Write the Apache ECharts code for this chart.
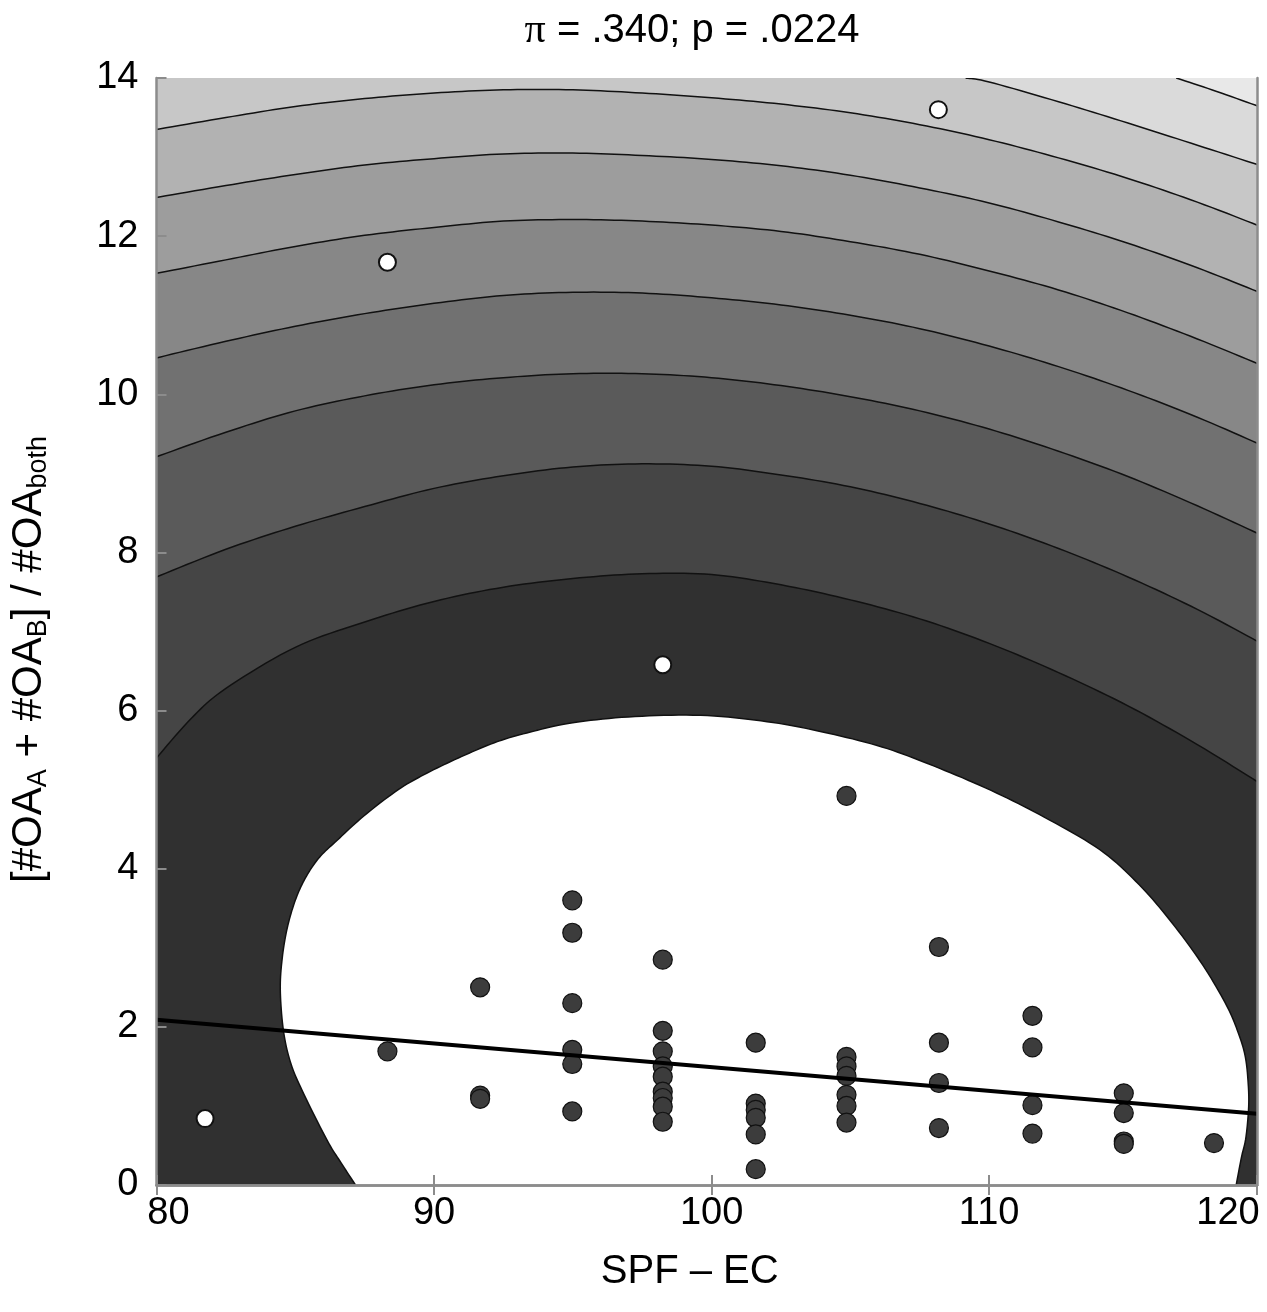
<!DOCTYPE html>
<html>
<head>
<meta charset="utf-8">
<title>SPF – EC</title>
<script src="https://cdn.jsdelivr.net/npm/echarts@6/dist/echarts.min.js"></script>
<style>
html, body { margin: 0; padding: 0; background: #fff; }
#chart { width: 1267px; height: 1312px; }
</style>
</head>
<body>
<div id="chart"></div>
<script>
var FONT = "'Liberation Sans', Arial, Helvetica, sans-serif";
var X_MIN = 80, X_MAX = 119.65, Y_MIN = 0, Y_MAX = 14;

// contour lines, outermost first
var contourA = [[116.74, 14.0], [118.2, 13.83], [119.8, 13.63]];
var contourB = [[109.15, 14.0], [110, 13.95], [112.5, 13.70], [115, 13.43], [117.5, 13.15], [119.8, 12.89]];
var contour1 = [[80, 13.35], [82.5, 13.50], [85, 13.64], [87.5, 13.74], [90, 13.81], [92.5, 13.85], [95, 13.85], [97.5, 13.81], [100, 13.75], [102.5, 13.67], [105, 13.56], [107.5, 13.41], [110, 13.22], [112.5, 12.99], [115, 12.73], [117.5, 12.43], [119.8, 12.12]];
var contour2 = [[80, 12.49], [82.5, 12.64], [85, 12.78], [87.5, 12.90], [90, 12.98], [92.5, 13.04], [95, 13.05], [97.5, 13.02], [100, 12.97], [102.5, 12.89], [105, 12.77], [107.5, 12.61], [110, 12.42], [112.5, 12.18], [115, 11.91], [117.5, 11.60], [119.8, 11.28]];
var contour3 = [[80, 11.53], [82.5, 11.70], [85, 11.87], [87.5, 12.01], [90, 12.11], [92.5, 12.19], [95, 12.21], [97.5, 12.19], [100, 12.14], [102.5, 12.06], [105, 11.93], [107.5, 11.77], [110, 11.56], [112.5, 11.32], [115, 11.03], [117.5, 10.70], [119.8, 10.37]];
var contour4 = [[80, 10.46], [82.5, 10.67], [85, 10.86], [87.5, 11.02], [90, 11.15], [92.5, 11.25], [95, 11.29], [97.5, 11.28], [100, 11.22], [102.5, 11.13], [105, 11.00], [107.5, 10.83], [110, 10.61], [112.5, 10.35], [115, 10.05], [117.5, 9.71], [119.8, 9.36]];
var contour5 = [[80, 9.21], [82.5, 9.52], [85, 9.79], [87.5, 9.98], [90, 10.12], [92.5, 10.21], [95, 10.26], [97.5, 10.26], [100, 10.21], [102.5, 10.11], [105, 9.97], [107.5, 9.79], [110, 9.56], [112.5, 9.28], [115, 8.96], [117.5, 8.59], [119.8, 8.22]];
var contour6 = [[80, 7.69], [82.5, 8.04], [85, 8.33], [87.5, 8.58], [90, 8.81], [92.5, 8.97], [95, 9.08], [97.5, 9.12], [100, 9.09], [102.5, 8.98], [105, 8.83], [107.5, 8.62], [110, 8.36], [112.5, 8.05], [115, 7.69], [117.5, 7.28], [119.8, 6.85]];
var contour7 = [[80, 5.40], [81.25, 5.90], [82.5, 6.28], [85, 6.80], [87.5, 7.12], [90, 7.38], [92.5, 7.56], [95, 7.67], [97.5, 7.73], [100, 7.72], [102.5, 7.59], [105, 7.40], [107.5, 7.16], [110, 6.85], [112.5, 6.48], [115, 6.06], [117.5, 5.57], [119.8, 5.07]];
var contourWhite = [[87.17, 0], [86.65, 0.28], [86.14, 0.57], [85.24, 1.20], [84.82, 1.56], [84.57, 1.96], [84.46, 2.47], [84.53, 2.87], [84.71, 3.25], [85.0, 3.60], [85.36, 3.88], [85.86, 4.14], [86.51, 4.36], [87.48, 4.67], [88.71, 5.00], [89.75, 5.21], [91, 5.42], [92.3, 5.61], [93.6, 5.74], [94.88, 5.84], [97, 5.92], [99.6, 5.94], [102, 5.86], [104, 5.73], [106.14, 5.54], [108, 5.30], [110.07, 4.99], [112, 4.65], [113.99, 4.24], [115.4, 3.80], [116.6, 3.31], [117.7, 2.78], [118.57, 2.26], [119.0, 1.90], [119.23, 1.62], [119.33, 1.3], [119.35, 0.99], [119.25, 0.6], [119.09, 0.35], [118.9, 0]];

var contours = [contourA, contourB, contour1, contour2, contour3, contour4, contour5, contour6, contour7, contourWhite];
// fill of the area inside each contour
var insideFills = ['#dadada', '#c7c7c7', '#b2b2b2', '#9d9d9d', '#878787', '#717171', '#5a5a5a', '#454545', '#303030', '#ffffff'];
var outerFill = '#e8e8e8';

var darkPoints = [
    [88.32, 1.69],
    [91.66, 2.50], [91.66, 1.13], [91.66, 1.09],
    [94.98, 3.60], [94.98, 3.19], [94.98, 2.30], [94.98, 1.71], [94.98, 1.53], [94.98, 0.93],
    [98.24, 2.85], [98.24, 1.95], [98.24, 1.69], [98.24, 1.50], [98.24, 1.37], [98.24, 1.18], [98.24, 1.10], [98.24, 0.99], [98.24, 0.80],
    [101.59, 1.80], [101.59, 1.03], [101.59, 0.95], [101.59, 0.85], [101.59, 0.64], [101.59, 0.20],
    [104.86, 4.92], [104.86, 1.62], [104.86, 1.50], [104.86, 1.38], [104.86, 1.14], [104.86, 1.00], [104.86, 0.79],
    [108.19, 3.01], [108.19, 1.80], [108.19, 1.29], [108.19, 0.72],
    [111.56, 2.14], [111.56, 1.74], [111.56, 1.01], [111.56, 0.65],
    [114.85, 1.16], [114.85, 0.91], [114.85, 0.55], [114.85, 0.52],
    [118.1, 0.53]
];
var whitePoints = [[81.75, 0.84], [88.32, 11.67], [98.24, 6.58], [108.17, 13.60]];
var fitLine = [[80, 2.09], [119.65, 0.90]];

// Catmull-Rom pass through the pixel points so the drawn contour is a smooth curve
function smoothPath(pts) {
    var out = [];
    var n = pts.length;
    for (var i = 0; i < n - 1; i++) {
        var p0 = pts[Math.max(i - 1, 0)], p1 = pts[i], p2 = pts[i + 1], p3 = pts[Math.min(i + 2, n - 1)];
        for (var s = 0; s < 10; s++) {
            var t = s / 10, t2 = t * t, t3 = t2 * t;
            var pt = [];
            for (var d = 0; d < 2; d++) {
                pt.push(0.5 * (2 * p1[d] + (p2[d] - p0[d]) * t +
                    (2 * p0[d] - 5 * p1[d] + 4 * p2[d] - p3[d]) * t2 +
                    (3 * p1[d] - p0[d] - 3 * p2[d] + p3[d]) * t3));
            }
            out.push(pt);
        }
    }
    out.push(pts[n - 1]);
    return out;
}

function contourItem(params, api) {
    var k = api.value(0);
    var line = contours[k];
    var first = line[0], last = line[line.length - 1];
    var curve = smoothPath(line.map(function (p) { return api.coord(p); }));
    var pre = [], post = [];
    var startX = first[0];
    // lines that start on the top edge enclose the whole upper-left part
    if (first[1] >= Y_MAX) { pre.push(api.coord([X_MIN, Y_MAX])); startX = X_MIN; }
    if (last[1] > Y_MIN) post.push(api.coord([last[0], Y_MIN]));
    if (first[1] > Y_MIN) post.push(api.coord([startX, Y_MIN]));
    return {
        type: 'group',
        children: [{
            type: 'polygon',
            shape: { points: pre.concat(curve, post) },
            style: { fill: insideFills[k] }
        }, {
            type: 'polyline',
            shape: { points: curve },
            style: { stroke: '#111', lineWidth: 1.5, fill: null }
        }]
    };
}

var axisGray = '#8c8c8c';
var chart = echarts.init(document.getElementById('chart'));
var option = {
    animation: false,
    title: {
        text: '{g|π} = .340; p = .0224',
        left: 687,
        textAlign: 'center',
        top: 5,
        textStyle: {
            fontFamily: FONT, fontSize: 40, fontWeight: 'normal', color: '#000',
            rich: { g: { fontFamily: "'Liberation Serif', serif", fontSize: 42, color: '#000' } }
        }
    },
    grid: {
        left: 155, right: 10, top: 78, bottom: 127,
        show: true, backgroundColor: outerFill, borderWidth: 0
    },
    xAxis: [{
        type: 'value', position: 'bottom', min: X_MIN, max: X_MAX, interval: 10, z: 10,
        axisLine: { lineStyle: { color: axisGray, width: 2.5 } },
        axisTick: { inside: true, length: 10, lineStyle: { color: axisGray, width: 2 } },
        splitLine: { show: false },
        axisLabel: {
            margin: 10, fontFamily: FONT, fontSize: 38, color: '#000',
            formatter: function (v) {
                if (v === 80) return '{l|80}';
                if (v > 119) return '{r|120}';
                return String(v);
            },
            rich: {
                l: { fontFamily: FONT, fontSize: 38, color: '#000', padding: [0, 0, 0, 24] },
                r: { fontFamily: FONT, fontSize: 38, color: '#000', padding: [0, 58, 0, 0] }
            }
        },
        name: 'SPF – EC', nameLocation: 'middle', nameGap: 67,
        nameTextStyle: { fontFamily: FONT, fontSize: 40, color: '#000', padding: [0, 34, 0, 0] }
    }, {
        type: 'value', position: 'top', min: X_MIN, max: X_MAX, interval: 10, z: 10,
        axisLine: { lineStyle: { color: axisGray, width: 2.5 } },
        axisTick: { inside: true, length: 10, lineStyle: { color: axisGray, width: 2 } },
        splitLine: { show: false },
        axisLabel: { show: false }
    }],
    yAxis: [{
        type: 'value', position: 'left', min: Y_MIN, max: Y_MAX, interval: 2, z: 10,
        axisLine: { lineStyle: { color: axisGray, width: 2.5 } },
        axisTick: { inside: true, length: 10, lineStyle: { color: axisGray, width: 2 } },
        splitLine: { show: false },
        axisLabel: { margin: 18, fontFamily: FONT, fontSize: 38, color: '#000' },
        name: '{n|[#OA}{s|A}{n| + #OA}{s|B}{n|] / #OA}{s|both}',
        nameLocation: 'middle', nameGap: 104,
        nameTextStyle: {
            fontFamily: FONT, fontSize: 42, color: '#000', padding: [0, 56, 0, 0],
            rich: {
                n: { fontFamily: FONT, fontSize: 42, color: '#000' },
                s: { fontFamily: FONT, fontSize: 27, color: '#000', padding: [20, 0, 0, 0] }
            }
        }
    }, {
        type: 'value', position: 'right', min: Y_MIN, max: Y_MAX, interval: 2, z: 10,
        axisLine: { lineStyle: { color: axisGray, width: 2.5 } },
        axisTick: { show: false },
        splitLine: { show: false },
        axisLabel: { show: false }
    }],
    series: [{
        type: 'custom',
        renderItem: contourItem,
        data: contours.map(function (c, i) { return [i]; }),
        clip: true,
        silent: true,
        z: 1
    }, {
        type: 'scatter',
        data: darkPoints,
        symbolSize: 19,
        itemStyle: { color: '#3c3c3c', borderColor: '#111', borderWidth: 1.2, opacity: 1 },
        silent: true,
        z: 3
    }, {
        type: 'scatter',
        data: whitePoints,
        symbolSize: 17,
        itemStyle: { color: '#ffffff', borderColor: '#111', borderWidth: 2, opacity: 1 },
        silent: true,
        z: 3
    }, {
        type: 'line',
        data: fitLine,
        symbol: 'none',
        lineStyle: { color: '#000', width: 4 },
        silent: true,
        z: 4
    }]
};
chart.setOption(option);
</script>
</body>
</html>
